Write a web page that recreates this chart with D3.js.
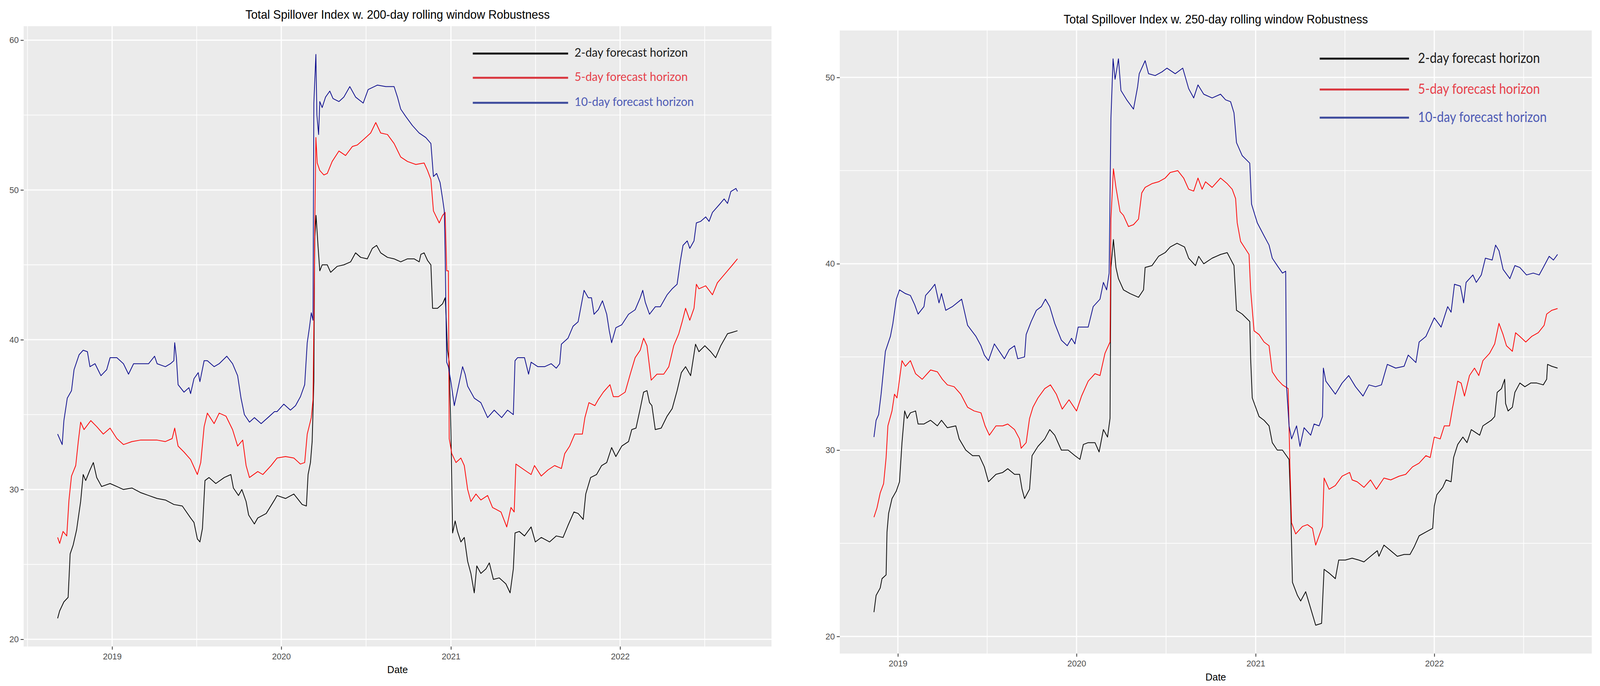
<!DOCTYPE html>
<html><head><meta charset="utf-8">
<script src="https://cdn.jsdelivr.net/npm/d3@7"></script>
<style>html,body{margin:0;padding:0;width:100%;height:100%;overflow:hidden;background:#fff}svg{display:block;width:100vw;height:100vh}</style>
</head><body>
<svg id="chart" viewBox="0 0 4264 1755" preserveAspectRatio="none"></svg>
<script>
// ---------- DATA (decimal year, spillover index) ----------
const w200_h2 = [[2018.678,21.4],[2018.690,21.9],[2018.715,22.5],[2018.740,22.8],[2018.752,25.7],[2018.770,26.3],[2018.790,27.3],[2018.814,29.2],[2018.829,31.0],[2018.844,30.6],[2018.869,31.3],[2018.889,31.8],[2018.909,30.8],[2018.938,30.2],[2018.988,30.4],[2019.028,30.2],[2019.067,30.0],[2019.117,30.1],[2019.167,29.8],[2019.216,29.6],[2019.266,29.4],[2019.315,29.3],[2019.365,29.0],[2019.415,28.9],[2019.464,28.1],[2019.484,27.8],[2019.504,26.7],[2019.519,26.5],[2019.534,27.4],[2019.549,30.6],[2019.573,30.8],[2019.613,30.4],[2019.663,30.8],[2019.702,31.0],[2019.717,30.1],[2019.747,29.6],[2019.767,30.0],[2019.792,29.2],[2019.807,28.3],[2019.841,27.7],[2019.861,28.1],[2019.911,28.4],[2019.960,29.3],[2019.975,29.6],[2020.025,29.4],[2020.074,29.7],[2020.123,29.0],[2020.148,28.9],[2020.158,31.0],[2020.172,31.8],[2020.182,33.2],[2020.192,37.2],[2020.197,46.7],[2020.205,48.3],[2020.217,46.2],[2020.227,44.6],[2020.241,45.0],[2020.271,45.0],[2020.291,44.5],[2020.330,44.9],[2020.369,45.0],[2020.409,45.2],[2020.438,45.8],[2020.468,45.5],[2020.507,45.4],[2020.537,46.1],[2020.562,46.3],[2020.586,45.8],[2020.626,45.5],[2020.665,45.4],[2020.704,45.2],[2020.744,45.4],[2020.783,45.4],[2020.813,45.2],[2020.823,45.7],[2020.842,45.8],[2020.862,45.3],[2020.882,45.0],[2020.892,42.1],[2020.921,42.1],[2020.951,42.4],[2020.966,42.8],[2020.970,42.0],[2020.980,39.3],[2020.990,38.5],[2021.000,34.0],[2021.010,27.1],[2021.025,27.9],[2021.039,27.2],[2021.059,26.5],[2021.079,26.8],[2021.099,25.2],[2021.118,24.4],[2021.138,23.1],[2021.153,24.9],[2021.177,24.4],[2021.207,24.7],[2021.227,25.1],[2021.251,24.0],[2021.286,24.1],[2021.325,23.7],[2021.350,23.1],[2021.369,24.7],[2021.379,27.1],[2021.404,27.2],[2021.435,26.9],[2021.474,27.5],[2021.499,26.5],[2021.534,26.8],[2021.583,26.5],[2021.623,26.9],[2021.663,26.8],[2021.692,27.6],[2021.727,28.5],[2021.752,28.4],[2021.782,28.0],[2021.797,29.7],[2021.826,30.8],[2021.861,31.0],[2021.891,31.6],[2021.921,31.8],[2021.950,32.8],[2021.975,32.2],[2022.010,32.9],[2022.050,33.2],[2022.069,34.0],[2022.094,34.1],[2022.119,35.4],[2022.139,36.5],[2022.159,36.6],[2022.174,35.8],[2022.188,35.6],[2022.208,34.0],[2022.243,34.1],[2022.278,34.9],[2022.308,35.4],[2022.337,36.6],[2022.362,37.8],[2022.387,38.2],[2022.417,37.6],[2022.446,39.7],[2022.466,39.2],[2022.501,39.6],[2022.536,39.2],[2022.565,38.8],[2022.595,39.6],[2022.635,40.4],[2022.665,40.5],[2022.694,40.6]];

const w200_h5 = [[2018.678,26.8],[2018.690,26.4],[2018.710,27.2],[2018.732,26.9],[2018.745,29.3],[2018.760,30.9],[2018.785,31.6],[2018.800,33.2],[2018.814,34.5],[2018.834,34.0],[2018.874,34.6],[2018.909,34.2],[2018.948,33.7],[2018.988,34.1],[2019.028,33.4],[2019.067,33.0],[2019.117,33.2],[2019.167,33.3],[2019.216,33.3],[2019.266,33.3],[2019.315,33.2],[2019.355,33.4],[2019.370,34.1],[2019.390,32.9],[2019.425,32.5],[2019.464,32.0],[2019.504,31.0],[2019.524,31.8],[2019.544,34.2],[2019.563,35.1],[2019.603,34.4],[2019.633,35.1],[2019.673,34.9],[2019.712,34.0],[2019.742,32.9],[2019.772,33.3],[2019.792,31.6],[2019.812,30.8],[2019.861,31.2],[2019.891,31.0],[2019.940,31.6],[2019.975,32.1],[2020.025,32.2],[2020.074,32.1],[2020.113,31.7],[2020.138,31.8],[2020.153,33.7],[2020.177,34.8],[2020.187,36.0],[2020.192,40.9],[2020.197,47.0],[2020.204,53.5],[2020.212,51.8],[2020.227,51.3],[2020.251,51.0],[2020.271,51.1],[2020.300,51.9],[2020.340,52.6],[2020.379,52.3],[2020.419,52.9],[2020.448,53.0],[2020.488,53.4],[2020.527,53.8],[2020.557,54.5],[2020.586,53.8],[2020.626,53.7],[2020.665,53.1],[2020.704,52.2],[2020.744,51.9],[2020.793,51.7],[2020.842,51.8],[2020.862,51.3],[2020.882,50.7],[2020.897,48.6],[2020.931,47.8],[2020.951,48.3],[2020.966,48.5],[2020.975,44.6],[2020.985,44.6],[2020.990,33.4],[2021.005,32.4],[2021.030,31.8],[2021.059,32.1],[2021.079,31.6],[2021.099,30.0],[2021.118,29.2],[2021.148,29.7],[2021.177,29.3],[2021.217,29.6],[2021.246,28.8],[2021.296,28.5],[2021.330,27.5],[2021.355,28.8],[2021.374,28.5],[2021.384,31.7],[2021.435,31.3],[2021.474,31.0],[2021.494,31.6],[2021.534,30.9],[2021.573,31.3],[2021.613,31.6],[2021.653,31.4],[2021.673,32.4],[2021.702,32.9],[2021.732,33.7],[2021.777,33.7],[2021.792,34.8],[2021.816,35.8],[2021.851,35.6],[2021.871,36.0],[2021.901,36.5],[2021.940,37.0],[2021.960,36.2],[2021.990,36.2],[2022.030,36.5],[2022.060,37.7],[2022.089,38.8],[2022.119,39.3],[2022.139,40.1],[2022.159,39.6],[2022.174,38.2],[2022.184,37.3],[2022.218,37.7],[2022.258,37.7],[2022.288,38.2],[2022.317,39.6],[2022.347,40.4],[2022.367,41.2],[2022.387,42.1],[2022.412,41.3],[2022.437,42.1],[2022.451,43.7],[2022.466,43.4],[2022.506,43.6],[2022.546,43.0],[2022.575,43.8],[2022.605,44.2],[2022.635,44.6],[2022.665,45.0],[2022.694,45.4]];

const w200_h10 = [[2018.678,33.7],[2018.705,33.0],[2018.715,34.6],[2018.735,36.1],[2018.760,36.6],[2018.775,38.0],[2018.805,39.0],[2018.829,39.3],[2018.854,39.2],[2018.869,38.2],[2018.899,38.4],[2018.934,37.6],[2018.968,38.0],[2018.988,38.8],[2019.028,38.8],[2019.067,38.4],[2019.097,37.7],[2019.127,38.4],[2019.167,38.4],[2019.216,38.4],[2019.251,38.9],[2019.266,38.4],[2019.315,38.2],[2019.345,38.4],[2019.365,38.6],[2019.370,39.8],[2019.380,38.8],[2019.390,37.0],[2019.425,36.5],[2019.454,36.8],[2019.464,36.4],[2019.484,37.4],[2019.509,37.8],[2019.519,37.2],[2019.544,38.6],[2019.563,38.6],[2019.603,38.2],[2019.633,38.4],[2019.678,38.9],[2019.712,38.4],[2019.742,37.6],[2019.762,36.1],[2019.782,35.0],[2019.812,34.5],[2019.841,34.8],[2019.881,34.4],[2019.921,34.8],[2019.960,35.2],[2019.975,35.2],[2020.015,35.7],[2020.054,35.3],[2020.084,35.6],[2020.113,36.2],[2020.138,37.0],[2020.153,39.8],[2020.167,40.9],[2020.177,41.8],[2020.187,41.3],[2020.192,55.8],[2020.204,59.05],[2020.210,55.0],[2020.220,53.7],[2020.227,55.9],[2020.241,55.5],[2020.261,56.2],[2020.286,56.6],[2020.305,56.1],[2020.340,55.9],[2020.369,56.2],[2020.404,56.9],[2020.438,56.2],[2020.483,55.8],[2020.512,56.7],[2020.567,57.0],[2020.616,56.9],[2020.665,56.9],[2020.685,56.2],[2020.704,55.4],[2020.734,54.9],[2020.773,54.3],[2020.813,53.8],[2020.852,53.5],[2020.882,53.1],[2020.897,50.9],[2020.916,51.1],[2020.936,50.5],[2020.951,49.4],[2020.961,48.6],[2020.966,45.7],[2020.975,38.5],[2020.985,38.2],[2021.000,37.2],[2021.020,35.6],[2021.039,36.6],[2021.069,38.2],[2021.084,37.7],[2021.099,36.9],[2021.138,36.1],[2021.177,35.8],[2021.217,34.8],[2021.256,35.3],[2021.300,34.8],[2021.335,35.3],[2021.369,35.0],[2021.379,38.6],[2021.394,38.8],[2021.435,38.8],[2021.459,37.7],[2021.474,38.5],[2021.514,38.2],[2021.554,38.2],[2021.593,38.4],[2021.623,38.1],[2021.643,38.4],[2021.653,39.7],[2021.692,40.1],[2021.722,40.9],[2021.752,41.2],[2021.767,42.1],[2021.787,43.3],[2021.812,42.8],[2021.831,42.8],[2021.846,41.7],[2021.871,42.0],[2021.896,42.6],[2021.921,41.7],[2021.936,40.6],[2021.950,39.8],[2021.975,40.8],[2022.010,41.0],[2022.050,41.7],[2022.089,42.0],[2022.119,42.8],[2022.134,43.3],[2022.149,42.5],[2022.174,41.7],[2022.208,42.2],[2022.238,42.2],[2022.278,43.0],[2022.308,43.4],[2022.337,43.7],[2022.357,45.3],[2022.372,46.3],[2022.397,46.6],[2022.412,46.1],[2022.437,46.6],[2022.451,47.8],[2022.476,47.9],[2022.506,48.2],[2022.526,47.9],[2022.546,48.5],[2022.585,49.0],[2022.615,49.4],[2022.635,49.1],[2022.655,49.9],[2022.685,50.1],[2022.694,49.9]];

const w250_h2 = [[2018.866,21.3],[2018.878,22.2],[2018.901,22.6],[2018.911,23.1],[2018.934,23.3],[2018.939,25.6],[2018.948,26.6],[2018.967,27.4],[2018.991,27.8],[2019.009,28.3],[2019.023,30.4],[2019.038,32.1],[2019.052,31.7],[2019.070,32.0],[2019.099,32.1],[2019.113,31.4],[2019.146,31.4],[2019.183,31.6],[2019.221,31.3],[2019.244,31.6],[2019.277,31.2],[2019.324,31.3],[2019.343,30.6],[2019.380,30.0],[2019.418,29.7],[2019.455,29.7],[2019.484,29.1],[2019.507,28.3],[2019.549,28.7],[2019.587,28.8],[2019.615,29.0],[2019.653,28.7],[2019.681,28.7],[2019.695,27.9],[2019.709,27.4],[2019.737,27.9],[2019.751,29.7],[2019.784,30.2],[2019.822,30.6],[2019.850,31.1],[2019.878,30.8],[2019.915,30.0],[2019.953,30.0],[2019.991,29.7],[2020.019,29.5],[2020.038,30.3],[2020.065,30.4],[2020.103,30.4],[2020.126,29.9],[2020.150,31.1],[2020.173,30.7],[2020.187,31.7],[2020.192,39.8],[2020.206,41.3],[2020.220,39.8],[2020.234,39.2],[2020.262,38.6],[2020.299,38.4],[2020.346,38.2],[2020.374,38.6],[2020.383,39.8],[2020.421,39.9],[2020.458,40.4],[2020.495,40.6],[2020.523,40.9],[2020.561,41.1],[2020.603,40.9],[2020.626,40.3],[2020.664,39.9],[2020.682,40.4],[2020.710,40.0],[2020.757,40.3],[2020.804,40.5],[2020.841,40.6],[2020.879,39.9],[2020.893,37.5],[2020.925,37.3],[2020.967,36.9],[2020.972,34.9],[2020.981,32.8],[2021.019,31.8],[2021.047,31.6],[2021.075,31.3],[2021.093,30.4],[2021.121,30.0],[2021.150,30.0],[2021.187,29.5],[2021.196,27.0],[2021.206,22.9],[2021.234,22.2],[2021.252,21.9],[2021.280,22.4],[2021.308,21.5],[2021.336,20.6],[2021.369,20.7],[2021.383,23.6],[2021.411,23.4],[2021.446,23.1],[2021.465,24.1],[2021.502,24.1],[2021.540,24.2],[2021.577,24.1],[2021.606,24.0],[2021.643,24.3],[2021.681,24.6],[2021.690,24.3],[2021.718,24.9],[2021.756,24.6],[2021.793,24.3],[2021.831,24.4],[2021.864,24.4],[2021.887,24.8],[2021.915,25.4],[2021.953,25.6],[2021.991,25.8],[2022.000,27.0],[2022.014,27.6],[2022.047,28.0],[2022.066,28.4],[2022.094,28.3],[2022.108,29.6],[2022.131,30.3],[2022.160,30.7],[2022.183,30.4],[2022.207,31.1],[2022.254,30.8],[2022.272,31.3],[2022.319,31.6],[2022.338,31.8],[2022.352,33.1],[2022.376,33.3],[2022.394,33.8],[2022.399,32.5],[2022.413,32.1],[2022.437,32.3],[2022.451,33.1],[2022.479,33.6],[2022.507,33.4],[2022.540,33.6],[2022.573,33.6],[2022.610,33.5],[2022.629,33.8],[2022.634,34.6],[2022.657,34.5],[2022.690,34.4]];

const w250_h5 = [[2018.866,26.4],[2018.883,26.9],[2018.901,27.7],[2018.920,28.2],[2018.934,29.6],[2018.944,31.3],[2018.967,32.1],[2018.981,33.0],[2018.995,32.8],[2019.009,33.8],[2019.023,34.8],[2019.042,34.5],[2019.070,34.8],[2019.099,34.1],[2019.136,33.8],[2019.183,34.3],[2019.221,34.2],[2019.249,33.8],[2019.277,33.5],[2019.315,33.4],[2019.352,33.0],[2019.390,32.3],[2019.427,32.1],[2019.465,32.0],[2019.488,31.3],[2019.512,30.8],[2019.549,31.3],[2019.587,31.3],[2019.615,31.4],[2019.653,31.1],[2019.681,30.6],[2019.690,30.1],[2019.718,30.4],[2019.737,31.7],[2019.756,32.3],[2019.784,32.8],[2019.822,33.3],[2019.854,33.5],[2019.887,33.0],[2019.920,32.2],[2019.958,32.7],[2020.000,32.1],[2020.028,32.9],[2020.065,33.7],[2020.103,34.1],[2020.131,34.0],[2020.159,35.2],[2020.187,35.8],[2020.192,42.4],[2020.206,45.1],[2020.220,44.1],[2020.243,42.8],[2020.262,42.6],[2020.290,42.0],[2020.318,42.1],[2020.346,42.4],[2020.364,43.8],[2020.383,44.1],[2020.421,44.3],[2020.458,44.4],[2020.495,44.6],[2020.523,44.9],[2020.565,45.0],[2020.598,44.6],[2020.626,44.0],[2020.654,43.9],[2020.678,44.6],[2020.701,44.0],[2020.720,44.4],[2020.757,44.1],[2020.804,44.6],[2020.841,44.3],[2020.869,44.0],[2020.888,43.5],[2020.897,42.2],[2020.916,41.2],[2020.963,40.5],[2020.972,38.6],[2020.991,36.4],[2021.019,36.2],[2021.047,35.8],[2021.075,35.6],[2021.093,34.2],[2021.121,33.8],[2021.150,33.5],[2021.182,33.3],[2021.192,29.1],[2021.201,26.1],[2021.224,25.5],[2021.262,25.9],[2021.290,26.0],[2021.318,25.8],[2021.336,24.9],[2021.374,25.9],[2021.383,28.5],[2021.411,27.9],[2021.446,28.1],[2021.484,28.6],[2021.526,28.8],[2021.540,28.4],[2021.568,28.3],[2021.606,28.0],[2021.643,28.4],[2021.676,27.9],[2021.718,28.5],[2021.756,28.4],[2021.803,28.6],[2021.840,28.7],[2021.878,29.1],[2021.915,29.3],[2021.953,29.7],[2021.977,29.6],[2022.000,30.7],[2022.033,30.6],[2022.056,31.3],[2022.085,31.3],[2022.103,32.3],[2022.131,33.7],[2022.150,33.6],[2022.169,32.9],[2022.197,34.0],[2022.225,34.4],[2022.249,34.0],[2022.272,34.8],[2022.310,35.2],[2022.338,35.7],[2022.362,36.8],[2022.385,36.2],[2022.404,35.6],[2022.437,35.3],[2022.455,36.3],[2022.479,36.1],[2022.512,35.8],[2022.545,36.1],[2022.582,36.3],[2022.615,36.7],[2022.629,37.3],[2022.657,37.5],[2022.690,37.6]];

const w250_h10 = [[2018.866,30.7],[2018.878,31.6],[2018.892,31.9],[2018.906,33.0],[2018.930,35.3],[2018.958,36.1],[2018.972,36.8],[2018.991,38.1],[2019.009,38.6],[2019.042,38.4],[2019.070,38.3],[2019.094,37.8],[2019.113,37.3],[2019.146,37.7],[2019.155,38.3],[2019.183,38.6],[2019.207,38.9],[2019.230,37.9],[2019.244,38.4],[2019.268,37.5],[2019.305,37.7],[2019.357,38.1],[2019.390,36.7],[2019.437,36.1],[2019.465,35.6],[2019.484,35.1],[2019.507,34.8],[2019.540,35.7],[2019.568,35.3],[2019.596,34.9],[2019.624,35.4],[2019.653,35.6],[2019.671,34.9],[2019.709,35.0],[2019.718,36.2],[2019.746,36.9],[2019.775,37.5],[2019.803,37.7],[2019.826,38.1],[2019.850,37.7],[2019.878,36.8],[2019.915,35.9],[2019.948,35.6],[2019.972,36.0],[2019.991,35.7],[2020.009,36.6],[2020.047,36.6],[2020.065,36.6],[2020.093,37.7],[2020.131,38.1],[2020.150,39.0],[2020.168,38.6],[2020.182,39.5],[2020.192,47.8],[2020.204,51.0],[2020.215,49.9],[2020.224,50.4],[2020.234,51.0],[2020.248,49.3],[2020.280,48.8],[2020.318,48.3],[2020.341,49.5],[2020.350,50.2],[2020.383,50.9],[2020.402,50.2],[2020.439,50.1],[2020.477,50.3],[2020.505,50.5],[2020.551,50.2],[2020.593,50.5],[2020.626,49.4],[2020.654,48.9],[2020.678,49.6],[2020.710,49.1],[2020.757,48.9],[2020.804,49.1],[2020.832,48.8],[2020.860,48.7],[2020.879,48.1],[2020.893,46.5],[2020.925,45.8],[2020.967,45.4],[2020.977,43.2],[2021.009,42.2],[2021.047,41.5],[2021.075,41.0],[2021.093,40.3],[2021.121,39.9],[2021.150,39.5],[2021.168,39.6],[2021.173,33.4],[2021.187,31.3],[2021.201,30.6],[2021.229,31.3],[2021.248,30.2],[2021.271,31.2],[2021.308,30.8],[2021.327,31.4],[2021.355,31.3],[2021.374,31.8],[2021.379,34.4],[2021.393,33.7],[2021.446,33.0],[2021.484,33.6],[2021.521,34.0],[2021.559,33.4],[2021.601,32.9],[2021.634,33.5],[2021.671,33.4],[2021.704,33.5],[2021.737,34.6],[2021.784,34.4],[2021.831,34.5],[2021.854,35.1],[2021.897,34.7],[2021.915,35.8],[2021.953,36.1],[2021.972,36.5],[2022.000,37.1],[2022.038,36.6],[2022.075,37.7],[2022.094,37.4],[2022.113,38.9],[2022.146,38.8],[2022.164,37.9],[2022.178,39.0],[2022.216,39.4],[2022.235,39.0],[2022.263,39.4],[2022.286,40.3],[2022.324,40.2],[2022.343,41.0],[2022.362,40.7],[2022.385,39.7],[2022.423,39.2],[2022.451,39.9],[2022.479,39.8],[2022.516,39.4],[2022.554,39.5],[2022.587,39.4],[2022.610,39.8],[2022.643,40.4],[2022.667,40.2],[2022.690,40.5]];

const yearTicks = [2019, 2020, 2021, 2022];
const yTicks200 = [20, 30, 40, 50, 60];
const yTicks250 = [20, 30, 40, 50];
const seriesLabels = ["2-day forecast horizon", "5-day forecast horizon", "10-day forecast horizon"];
const chartTitles = ["Total Spillover Index w. 200-day rolling window Robustness",
                     "Total Spillover Index w. 250-day rolling window Robustness"];
const xAxisTitle = "Date";

// ---------- STYLE / LAYOUT ----------
const lineColors = ["#000000", "#ff0000", "#0a0a8c"];
const legendLineColors = ["#111111", "#d9343c", "#3c4a9c"];
const legendTextColors = ["#1a1a1a", "#e6404a", "#4d5ab5"];

const panels = [
  { title: chartTitles[0], series: [w200_h2, w200_h5, w200_h10], yTicks: yTicks200,
    x0: 63, x1: 2056, y0: 67, y1: 1654, titleY: 48, dateY: 1722,
    legend: { lx0: 1260, lx1: 1514, rows: [137, 199, 263], tx: 1531, fs: 30.5, dy: 8, lens: [302, 302, 318] } },
  { title: chartTitles[1], series: [w250_h2, w250_h5, w250_h10], yTicks: yTicks250,
    x0: 2238, x1: 4242, y0: 78, y1: 1672, titleY: 60, dateY: 1741,
    legend: { lx0: 3517, lx1: 3755, rows: [150, 229, 301], tx: 3779, fs: 37, dy: 11, lens: [325, 325, 343] } }
];

function toDate(t) {
  const y = Math.floor(t);
  const s = Date.UTC(y, 0, 1), e = Date.UTC(y + 1, 0, 1);
  return new Date(s + (t - y) * (e - s));
}

const svg = d3.select("#chart");
svg.append("rect").attr("width", 4264).attr("height", 1755).attr("fill", "#ffffff");

const axisFont = "'Liberation Sans', Arial, Helvetica, sans-serif";

panels.forEach(p => {
  const all = p.series.flat();
  const xe = d3.extent(all, d => toDate(d[0]).getTime());
  const xs = xe[1] - xe[0];
  const ye = d3.extent(all, d => d[1]);
  const ysp = ye[1] - ye[0];

  const x = d3.scaleUtc()
    .domain([new Date(xe[0] - 0.05 * xs), new Date(xe[1] + 0.05 * xs)])
    .range([p.x0, p.x1]);
  const y = d3.scaleLinear()
    .domain([ye[0] - 0.05 * ysp, ye[1] + 0.05 * ysp])
    .range([p.y1, p.y0]);

  const g = svg.append("g");
  g.append("rect").attr("x", p.x0).attr("y", p.y0)
    .attr("width", p.x1 - p.x0).attr("height", p.y1 - p.y0).attr("fill", "#ebebeb");

  // y grid
  const yMajor = p.yTicks;
  const yStep = yMajor[1] - yMajor[0];
  const yMinor = [yMajor[0] - yStep / 2, ...yMajor.map(v => v + yStep / 2)]
    .filter(v => v > y.domain()[0] && v < y.domain()[1]);
  g.selectAll(".ymin").data(yMinor).enter().append("line")
    .attr("x1", p.x0).attr("x2", p.x1).attr("y1", d => y(d)).attr("y2", d => y(d))
    .attr("stroke", "#ffffff").attr("stroke-width", 1.8);
  // x grid
  const xMajor = yearTicks.map(yr => new Date(Date.UTC(yr, 0, 1)));
  const xMinorAll = [];
  const ext = [new Date(Date.UTC(yearTicks[0] - 1, 0, 1)), ...xMajor, new Date(Date.UTC(yearTicks[yearTicks.length - 1] + 1, 0, 1))];
  for (let i = 0; i < ext.length - 1; i++) xMinorAll.push(new Date((ext[i].getTime() + ext[i + 1].getTime()) / 2));
  const xd = x.domain();
  const xMinor = xMinorAll.filter(d => d > xd[0] && d < xd[1]);
  g.selectAll(".xmin").data(xMinor).enter().append("line")
    .attr("y1", p.y0).attr("y2", p.y1).attr("x1", d => x(d)).attr("x2", d => x(d))
    .attr("stroke", "#ffffff").attr("stroke-width", 1.8);
  g.selectAll(".ymaj").data(yMajor).enter().append("line")
    .attr("x1", p.x0).attr("x2", p.x1).attr("y1", d => y(d)).attr("y2", d => y(d))
    .attr("stroke", "#ffffff").attr("stroke-width", 3);
  g.selectAll(".xmaj").data(xMajor).enter().append("line")
    .attr("y1", p.y0).attr("y2", p.y1).attr("x1", d => x(d)).attr("x2", d => x(d))
    .attr("stroke", "#ffffff").attr("stroke-width", 3);

  // series lines
  const line = d3.line().x(d => x(toDate(d[0]))).y(d => y(d[1]));
  p.series.forEach((s, i) => {
    g.append("path").datum(s).attr("d", line)
      .attr("fill", "none").attr("stroke", lineColors[i])
      .attr("stroke-width", 2).attr("stroke-linejoin", "round");
  });

  // y axis
  const yAxis = d3.axisLeft(y).tickValues(yMajor).tickSize(8).tickPadding(5).tickFormat(d3.format("d"));
  const ya = g.append("g").attr("transform", `translate(${p.x0},0)`).call(yAxis);
  ya.select(".domain").remove();
  ya.selectAll(".tick line").attr("stroke", "#333333").attr("stroke-width", 2);
  ya.selectAll(".tick text").attr("fill", "#4d4d4d").style("font-family", axisFont).style("font-size", "22.5px");

  // x axis
  const xAxis = d3.axisBottom(x).tickValues(xMajor).tickSize(8).tickPadding(9).tickFormat(d3.utcFormat("%Y"));
  const xa = g.append("g").attr("transform", `translate(0,${p.y1})`).call(xAxis);
  xa.select(".domain").remove();
  xa.selectAll(".tick line").attr("stroke", "#333333").attr("stroke-width", 2);
  xa.selectAll(".tick text").attr("fill", "#4d4d4d").style("font-family", axisFont).style("font-size", "22.5px");

  // titles
  g.append("text").attr("x", (p.x0 + p.x1) / 2).attr("y", p.titleY)
    .attr("text-anchor", "middle").style("font-family", axisFont).style("font-size", "31px")
    .attr("fill", "#000").text(p.title);
  g.append("text").attr("x", (p.x0 + p.x1) / 2).attr("y", p.dateY)
    .attr("text-anchor", "middle").style("font-family", axisFont).style("font-size", "26px")
    .attr("fill", "#000").text(xAxisTitle);

  // legend
  const L = p.legend;
  seriesLabels.forEach((lab, i) => {
    g.append("line").attr("x1", L.lx0).attr("x2", L.lx1)
      .attr("y1", L.rows[i]).attr("y2", L.rows[i])
      .attr("stroke", legendLineColors[i]).attr("stroke-width", 5);
    g.append("text").attr("x", L.tx).attr("y", L.rows[i] + L.dy)
      .style("font-family", "Lato, 'Open Sans', sans-serif").style("font-size", L.fs + "px")
      .attr("textLength", L.lens[i]).attr("lengthAdjust", "spacingAndGlyphs")
      .attr("fill", legendTextColors[i]).text(lab);
  });
});
</script>
</body></html>
